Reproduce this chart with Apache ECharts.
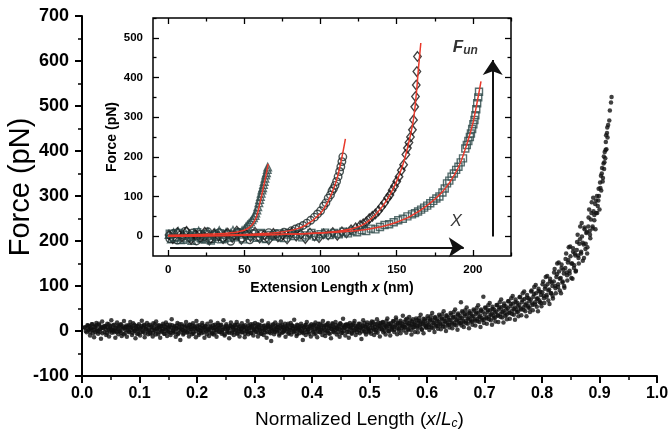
<!DOCTYPE html>
<html><head><meta charset="utf-8">
<script src="https://cdn.jsdelivr.net/npm/echarts@6/dist/echarts.min.js"></script>
<style>html,body{margin:0;padding:0;background:#fff}#c{width:669px;height:434px}</style>
</head><body><div id="c"></div>
<script>
// Main panel: normalized length (x/Lc) vs force (pN) in two passes
const mainPoints = [
[0.005,8],[0.008,-3],[0.010,12],[0.012,2],[0.014,-10],[0.016,6],[0.018,15],[0.019,-5],
[0.021,-14],[0.023,9],[0.025,18],[0.026,0],[0.028,-6],[0.030,13],[0.032,4],[0.033,-17],[0.035,21],[0.037,7],[0.039,-2],
[0.041,11],[0.042,-9],[0.044,16],[0.046,3],[0.047,-12],[0.049,8],[0.051,24],[0.052,-4],[0.054,1],[0.056,14],[0.058,-15],[0.059,6],
[0.061,19],[0.063,-7],[0.064,10],[0.066,-1],[0.068,15],[0.069,-11],[0.071,5],[0.073,22],[0.075,-5],[0.076,9],[0.078,-13],[0.079,2],
[0.081,13],[0.082,-3],[0.084,20],[0.086,7],[0.087,-9],[0.089,17],[0.091,0],[0.093,-16],[0.094,11],[0.096,4],[0.098,-6],[0.099,15],
[0.101,-10],[0.103,8],[0.104,23],[0.106,-2],[0.108,12],[0.109,-14],[0.111,5],[0.113,18],[0.115,-7],[0.116,1],[0.118,14],[0.119,-4],
[0.121,9],[0.123,-12],[0.124,17],[0.126,3],[0.128,-8],[0.129,21],[0.131,6],[0.133,-3],[0.134,13],[0.136,-15],[0.138,10],[0.139,0],
[0.141,16],[0.143,-6],[0.144,4],[0.146,19],[0.148,-11],[0.149,8],[0.151,-1],[0.153,14],[0.154,-9],[0.156,26],[0.158,2],[0.159,-4],
[0.161,11],[0.163,-13],[0.164,6],[0.166,18],[0.168,-5],[0.169,9],[0.171,-20],[0.173,15],[0.174,3],[0.176,-8],[0.178,12],[0.179,0],
[0.181,20],[0.183,-2],[0.184,7],[0.186,-12],[0.188,14],[0.189,4],[0.191,-7],[0.193,17],[0.194,-3],[0.196,10],[0.198,-14],[0.199,22],
[0.201,5],[0.203,-9],[0.204,13],[0.206,1],[0.208,-5],[0.209,18],[0.211,8],[0.213,-15],[0.214,11],[0.216,-1],[0.218,16],[0.219,3],
[0.221,-11],[0.223,9],[0.224,21],[0.226,-4],[0.228,6],[0.229,-8],[0.231,14],[0.233,2],[0.234,-13],[0.236,18],[0.238,7],[0.239,-2],
[0.241,12],[0.243,-6],[0.244,3],[0.246,24],[0.248,-10],[0.249,8],[0.251,15],[0.253,-3],[0.254,5],[0.256,-16],[0.258,11],[0.259,19],
[0.261,-1],[0.263,7],[0.264,-9],[0.266,14],[0.268,2],[0.269,20],[0.271,-5],[0.273,10],[0.274,-12],[0.276,4],[0.278,17],[0.279,-3],
[0.281,9],[0.283,-14],[0.284,13],[0.286,0],[0.288,22],[0.289,-7],[0.291,6],[0.293,15],[0.294,-4],[0.296,11],[0.298,-10],[0.299,3],
[0.301,18],[0.303,-2],[0.304,8],[0.306,-12],[0.308,14],[0.309,4],[0.311,-6],[0.313,23],[0.314,1],[0.316,-9],[0.318,12],[0.319,6],
[0.321,-15],[0.323,10],[0.324,17],[0.326,-3],[0.328,5],[0.329,-22],[0.331,13],[0.333,2],[0.334,-7],[0.336,19],[0.338,8],[0.339,-1],
[0.341,14],[0.343,-10],[0.344,6],[0.346,21],[0.348,-4],[0.349,9],[0.351,0],[0.353,16],[0.354,-13],[0.356,7],[0.358,12],[0.359,-6],
[0.361,3],[0.363,18],[0.364,-8],[0.366,11],[0.368,-1],[0.369,25],[0.371,5],[0.373,-11],[0.374,14],[0.376,2],[0.378,-5],[0.379,9],
[0.381,16],[0.383,-3],[0.384,-20],[0.386,7],[0.388,13],[0.389,-9],[0.391,20],[0.393,4],[0.394,-2],[0.396,10],[0.398,-12],[0.399,15],
[0.401,1],[0.403,12],[0.404,-7],[0.406,19],[0.408,5],[0.409,-14],[0.411,9],[0.413,-2],[0.414,16],[0.416,3],[0.418,-9],[0.419,22],
[0.421,7],[0.423,-11],[0.424,13],[0.426,0],[0.428,18],[0.429,-5],[0.431,10],[0.433,-16],[0.434,4],[0.436,15],[0.438,-3],[0.439,8],
[0.441,20],[0.443,-8],[0.444,5],[0.446,12],[0.448,-13],[0.449,17],[0.451,2],[0.453,-4],[0.454,27],[0.456,9],[0.458,-10],[0.459,14],
[0.461,-2],[0.463,11],[0.464,-15],[0.466,18],[0.468,6],[0.469,-6],[0.471,14],[0.473,1],[0.474,22],[0.476,-9],[0.478,9],[0.479,3],
[0.481,16],[0.483,-5],[0.484,8],[0.486,-18],[0.488,12],[0.489,24],[0.491,0],[0.493,10],[0.494,-8],[0.496,19],[0.498,4],[0.499,-3],
[0.501,13],[0.503,-6],[0.504,21],[0.506,6],[0.508,-9],[0.509,15],[0.511,2],[0.513,26],[0.514,-4],[0.516,11],[0.518,-12],[0.519,18],
[0.521,5],[0.523,20],[0.524,-3],[0.526,14],[0.528,-8],[0.529,9],[0.531,28],[0.533,0],[0.534,16],[0.536,-10],[0.538,12],[0.539,3],
[0.541,22],[0.543,-2],[0.544,10],[0.546,30],[0.548,-7],[0.549,16],[0.551,5],[0.553,19],[0.554,-5],[0.556,12],[0.558,34],[0.559,1],
[0.561,9],[0.563,25],[0.564,-4],[0.566,18],[0.568,3],[0.569,31],[0.571,12],[0.573,-8],[0.574,21],[0.576,7],[0.578,15],[0.579,-2],
[0.581,28],[0.583,10],[0.584,-3],[0.586,22],[0.588,14],[0.589,36],[0.591,4],[0.593,19],[0.594,-5],[0.596,26],[0.598,12],[0.599,8],
[0.601,33],[0.603,14],[0.604,2],[0.606,25],[0.608,8],[0.609,40],[0.611,18],[0.613,-2],[0.614,29],[0.616,11],[0.618,22],[0.619,5],
[0.621,36],[0.623,16],[0.624,4],[0.626,28],[0.628,10],[0.629,44],[0.631,21],[0.633,0],[0.634,33],[0.636,14],[0.638,25],[0.639,8],
[0.641,40],[0.643,19],[0.644,6],[0.646,31],[0.648,14],[0.649,48],[0.651,24],[0.653,3],[0.654,36],[0.656,17],[0.658,29],[0.659,64],[0.660,12],
[0.661,44],[0.663,22],[0.664,9],[0.666,37],[0.668,18],[0.669,52],[0.671,27],[0.673,6],[0.674,40],[0.676,21],[0.678,33],[0.679,14],
[0.681,48],[0.683,26],[0.684,12],[0.686,41],[0.688,22],[0.689,57],[0.691,31],[0.693,9],[0.694,45],[0.696,25],[0.698,76],[0.699,18],
[0.701,52],[0.703,30],[0.704,16],[0.706,46],[0.708,26],[0.709,62],[0.711,36],[0.713,14],[0.714,49],[0.716,29],[0.718,41],[0.719,21],
[0.721,58],[0.723,35],[0.724,20],[0.726,52],[0.728,31],[0.729,70],[0.731,42],[0.733,19],[0.734,56],[0.736,34],[0.738,48],[0.739,26],
[0.741,66],[0.743,41],[0.744,27],[0.746,60],[0.748,38],[0.749,78],[0.751,49],[0.753,25],[0.754,64],[0.756,42],[0.758,55],[0.759,33],
[0.761,75],[0.763,50],[0.764,35],[0.766,69],[0.768,47],[0.769,88],[0.771,58],[0.773,33],[0.774,74],[0.776,52],[0.778,66],[0.779,42],
[0.781,88],[0.783,61],[0.784,46],[0.786,82],[0.788,59],[0.789,102],[0.791,71],[0.793,44],[0.794,89],[0.796,64],[0.798,80],[0.799,55],
[0.801,104],[0.803,78],[0.804,62],[0.806,99],[0.808,76],[0.809,122],[0.811,90],[0.813,60],[0.814,110],[0.816,84],[0.818,100],[0.819,72],
[0.821,130],[0.823,100],[0.824,84],[0.826,126],[0.828,98],[0.829,152],[0.831,116],[0.833,84],[0.834,140],[0.836,110],[0.838,128],[0.839,96],
[0.841,160],[0.843,130],[0.844,112],[0.846,158],[0.848,128],[0.849,188],[0.851,150],[0.853,116],[0.854,176],[0.856,146],[0.858,168],[0.859,134],
[0.861,198],[0.863,168],[0.864,150],[0.866,204],[0.868,172],[0.869,240],[0.871,196],[0.873,162],[0.874,226],[0.876,194],[0.878,220],[0.879,186],
[0.881,252],[0.883,222],[0.884,206],[0.886,262],[0.888,232],[0.889,296],[0.891,258],[0.893,226],[0.894,290],[0.896,262],[0.898,290],[0.899,300],[0.900,270],
[0.901,330],[0.903,312],[0.904,350],[0.906,340],[0.907,372],[0.908,360],[0.909,398],[0.910,384],[0.911,420],[0.912,404],[0.913,440],[0.914,430],[0.915,458],[0.917,468],[0.918,490],[0.920,508],[0.921,520]
];
const mainPointsB = [
[0.0045,8],[0.0065,0],[0.0095,13],[0.011,4],[0.0125,11],[0.014,-3],[0.0155,6],[0.017,15],[0.0185,2],
[0.0205,2],[0.022,10],[0.0235,-3],[0.025,13],[0.0265,4],[0.028,0],[0.0295,16],[0.031,-2],[0.0325,6],[0.034,9],[0.0355,-5],[0.037,7],[0.0385,11],
[0.0405,9],[0.042,3],[0.0435,-5],[0.045,8],[0.0465,15],[0.048,-1],[0.0495,11],[0.051,2],[0.0525,4],[0.054,13],[0.0555,-3],[0.057,6],[0.0585,0],
[0.0605,-2],[0.062,12],[0.0635,5],[0.065,1],[0.0665,14],[0.068,-4],[0.0695,8],[0.071,10],[0.0725,-7],[0.074,7],[0.0755,3],[0.077,12],[0.0785,9],
[0.0805,7],[0.082,-1],[0.0835,12],[0.085,3],[0.0865,10],[0.088,-4],[0.0895,5],[0.091,14],[0.0925,1],[0.094,8],[0.0955,-6],[0.097,11],[0.0985,2],
[0.1005,6],[0.102,-3],[0.1035,11],[0.105,1],[0.1065,8],[0.108,14],[0.1095,-5],[0.111,4],[0.1125,9],[0.114,-1],[0.1155,13],[0.117,3],[0.1185,-6],
[0.1205,10],[0.122,2],[0.1235,-4],[0.125,7],[0.1265,15],[0.128,0],[0.1295,5],[0.131,12],[0.1325,-7],[0.134,8],[0.1355,3],[0.137,11],[0.1385,-2],
[0.1405,4],[0.142,12],[0.1435,-6],[0.145,9],[0.1465,1],[0.148,14],[0.1495,-2],[0.151,6],[0.1525,10],[0.154,-4],[0.1555,7],[0.157,13],[0.1585,0],
[0.1605,8],[0.162,-3],[0.1635,5],[0.165,12],[0.1665,-7],[0.168,3],[0.1695,15],[0.171,6],[0.1725,-1],[0.174,10],[0.1755,2],[0.177,-5],[0.1785,9],
[0.1805,1],[0.182,11],[0.1835,-4],[0.185,7],[0.1865,14],[0.188,-2],[0.1895,9],[0.191,4],[0.1925,12],[0.194,-6],[0.1955,5],[0.197,8],[0.1985,0],
[0.2005,12],[0.202,3],[0.2035,-5],[0.205,9],[0.2065,0],[0.208,6],[0.2095,13],[0.211,-3],[0.2125,7],[0.214,2],[0.2155,10],[0.217,-7],[0.2185,5],
[0.2205,3],[0.222,-2],[0.2235,11],[0.225,6],[0.2265,-6],[0.228,13],[0.2295,1],[0.231,8],[0.2325,-4],[0.234,10],[0.2355,4],[0.237,14],[0.2385,-1],
[0.2405,7],[0.242,14],[0.2435,-3],[0.245,2],[0.2465,9],[0.248,-7],[0.2495,5],[0.251,11],[0.2525,0],[0.254,8],[0.2555,-4],[0.257,6],[0.2585,12],
[0.2605,-5],[0.262,9],[0.2635,3],[0.265,12],[0.2665,-1],[0.268,7],[0.2695,-6],[0.271,14],[0.2725,4],[0.274,0],[0.2755,10],[0.277,-3],[0.2785,6],
[0.2805,11],[0.282,2],[0.2835,-6],[0.285,8],[0.2865,5],[0.288,-2],[0.2895,13],[0.291,0],[0.2925,9],[0.294,-5],[0.2955,7],[0.297,15],[0.2985,3],
[0.3005,-1],[0.302,10],[0.3035,5],[0.305,15],[0.3065,-4],[0.308,8],[0.3095,1],[0.311,12],[0.3125,-6],[0.314,6],[0.3155,11],[0.317,2],[0.3185,-3],
[0.3205,7],[0.322,-3],[0.3235,13],[0.325,4],[0.3265,10],[0.328,-5],[0.3295,8],[0.331,0],[0.3325,15],[0.334,5],[0.3355,-2],[0.337,11],[0.3385,3],
[0.3405,9],[0.342,1],[0.3435,-6],[0.345,12],[0.3465,5],[0.348,14],[0.3495,-3],[0.351,7],[0.3525,2],[0.354,10],[0.3555,-1],[0.357,4],[0.3585,16],
[0.3605,-4],[0.362,8],[0.3635,3],[0.365,13],[0.3665,6],[0.368,-2],[0.3695,10],[0.371,0],[0.3725,7],[0.374,-7],[0.3755,12],[0.377,5],[0.3785,1],
[0.3805,6],[0.382,11],[0.3835,0],[0.385,-5],[0.3865,9],[0.388,3],[0.3895,14],[0.391,-2],[0.3925,8],[0.394,4],[0.3955,-6],[0.397,12],[0.3985,7],
[0.4005,9],[0.402,-2],[0.4035,14],[0.405,4],[0.4065,-5],[0.408,11],[0.4095,1],[0.411,16],[0.4125,6],[0.414,-3],[0.4155,8],[0.417,13],[0.4185,0],
[0.4205,12],[0.422,3],[0.4235,-4],[0.425,9],[0.4265,15],[0.428,1],[0.4295,7],[0.431,-6],[0.4325,11],[0.434,5],[0.4355,17],[0.437,-1],[0.4385,8],
[0.4405,2],[0.442,13],[0.4435,6],[0.445,-3],[0.4465,10],[0.448,4],[0.4495,16],[0.451,-5],[0.4525,8],[0.454,12],[0.4555,0],[0.457,7],[0.4585,14],
[0.4605,5],[0.462,15],[0.4635,-2],[0.465,10],[0.4665,3],[0.468,13],[0.4695,-4],[0.471,8],[0.4725,17],[0.474,1],[0.4755,11],[0.477,6],[0.4785,-3],
[0.4805,12],[0.482,2],[0.4835,16],[0.485,7],[0.4865,-1],[0.488,10],[0.4895,4],[0.491,18],[0.4925,-3],[0.494,9],[0.4955,14],[0.497,5],[0.4985,0],
[0.5005,6],[0.502,17],[0.5035,1],[0.505,12],[0.5065,20],[0.508,3],[0.5095,9],[0.511,-2],[0.5125,15],[0.514,7],[0.5155,19],[0.517,4],[0.5185,11],
[0.5205,14],[0.522,3],[0.5235,19],[0.525,8],[0.5265,0],[0.528,12],[0.5295,22],[0.531,6],[0.5325,15],[0.534,-1],[0.5355,10],[0.537,17],[0.5385,5],
[0.5405,9],[0.542,21],[0.5435,3],[0.545,14],[0.5465,25],[0.548,7],[0.5495,18],[0.551,1],[0.5525,12],[0.554,23],[0.5555,6],[0.557,16],[0.5585,10],
[0.5605,20],[0.562,8],[0.5635,14],[0.565,27],[0.5665,4],[0.568,17],[0.5695,11],[0.571,23],[0.5725,2],[0.574,15],[0.5755,26],[0.577,9],[0.5785,19],
[0.5805,13],[0.582,24],[0.5835,6],[0.585,18],[0.5865,29],[0.588,10],[0.5895,21],[0.591,3],[0.5925,16],[0.594,27],[0.5955,12],[0.597,22],[0.5985,8],
[0.6005,17],[0.602,28],[0.6035,9],[0.605,22],[0.6065,33],[0.608,13],[0.6095,25],[0.611,6],[0.6125,19],[0.614,31],[0.6155,14],[0.617,26],[0.6185,11],
[0.6205,20],[0.622,32],[0.6235,12],[0.625,25],[0.6265,37],[0.628,16],[0.6295,28],[0.631,9],[0.6325,22],[0.634,35],[0.6355,17],[0.637,30],[0.6385,14],
[0.6405,24],[0.642,36],[0.6435,15],[0.645,29],[0.6465,42],[0.648,19],[0.6495,32],[0.651,12],[0.6525,26],[0.654,39],[0.6555,21],[0.657,34],[0.6585,17],
[0.6605,28],[0.662,41],[0.6635,19],[0.665,33],[0.6665,46],[0.668,23],[0.6695,37],[0.671,16],[0.6725,30],[0.674,44],[0.6755,25],[0.677,38],[0.6785,21],
[0.6805,32],[0.682,45],[0.6835,23],[0.685,37],[0.6865,51],[0.688,27],[0.6895,41],[0.691,20],[0.6925,34],[0.694,48],[0.6955,29],[0.697,43],[0.6985,25],
[0.7005,37],[0.702,51],[0.7035,28],[0.705,42],[0.7065,57],[0.708,32],[0.7095,46],[0.711,24],[0.7125,39],[0.714,54],[0.7155,34],[0.717,48],[0.7185,30],
[0.7205,43],[0.722,57],[0.7235,34],[0.725,48],[0.7265,64],[0.728,38],[0.7295,53],[0.731,30],[0.7325,45],[0.734,61],[0.7355,40],[0.737,55],[0.7385,36],
[0.7405,50],[0.742,66],[0.7435,40],[0.745,55],[0.7465,73],[0.748,45],[0.7495,61],[0.751,36],[0.7525,52],[0.754,70],[0.7555,47],[0.757,63],[0.7585,43],
[0.7605,58],[0.762,76],[0.7635,48],[0.765,64],[0.7665,84],[0.768,53],[0.7695,71],[0.771,44],[0.7725,61],[0.774,80],[0.7755,56],[0.777,73],[0.7785,51],
[0.7805,70],[0.782,90],[0.7835,58],[0.785,76],[0.7865,98],[0.788,64],[0.7895,84],[0.791,54],[0.7925,73],[0.794,94],[0.7955,68],[0.797,87],[0.7985,62],
[0.8005,86],[0.802,110],[0.8035,73],[0.805,94],[0.8065,120],[0.808,80],[0.8095,104],[0.811,68],[0.8125,92],[0.814,116],[0.8155,84],[0.817,108],[0.8185,78],
[0.8205,110],[0.822,138],[0.8235,95],[0.825,120],[0.8265,150],[0.828,104],[0.8295,132],[0.831,90],[0.8325,118],[0.834,148],[0.8355,108],[0.837,136],[0.8385,100],
[0.8405,140],[0.842,172],[0.8435,124],[0.845,152],[0.8465,186],[0.848,134],[0.8495,166],[0.851,118],[0.8525,150],[0.854,184],[0.8555,140],[0.857,172],[0.8585,132],
[0.8605,180],[0.862,214],[0.8635,162],[0.865,194],[0.8665,232],[0.868,176],[0.8695,210],[0.871,156],[0.8725,192],[0.874,230],[0.8755,182],[0.877,218],[0.8785,172],
[0.8805,232],[0.882,270],[0.8835,214],[0.885,248],[0.8865,286],[0.888,228],[0.8895,266],[0.891,246],[0.8925,282],[0.894,262],[0.8955,300],[0.897,278],[0.8985,316],
[0.9015,318],[0.9025,345],[0.9045,362],[0.9055,332],[0.9075,388],[0.9085,375],[0.9105,402],[0.9115,435],[0.9135,452]
];

// Inset: extension length x (nm) vs force (pN)
const insetTriangles = [[0.5,4],[2,-7],[3.5,9],[5,-2],[6.5,12],[8,-9],[9.5,3],[11,10],[12.5,-5],[14,6],[15.5,-11],[17,8],[18.5,1],[20,13],[21.5,-4],[23,5],[24.5,-8],[26,11],[27.5,2],[29,-6],[30.5,9],[32,-1],[33.5,14],[35,-7],[36.5,4],[38,10],[39.5,-3],[41,7],[42.5,15],[44,1],[45.5,9],[47,5],[48.5,14],[50,18],[51,23],[52,28],[53,32],[54,36],[55,41],[56,46],[57,52],[57.5,58],[58.2,66],[58.8,74],[59.5,84],[60,92],[60.5,100],[61,108],[61.5,116],[62,122],[62.5,130],[63,138],[63.5,146],[64,154],[64.5,160],[65,168],[65.3,174]];
const insetCircles = [[1,-6],[3.5,7],[6,-10],[8.5,4],[11,12],[13.5,-3],[16,8],[18.5,-12],[21,5],[23.5,-1],[26,11],[28.5,-7],[31,3],[33.5,9],[36,-4],[38.5,6],[41,-13],[43.5,2],[46,10],[48.5,-5],[51,4],[53.5,-9],[56,7],[58.5,-2],[61,5],[63.5,-6],[66,9],[68.5,1],[71,6],[73.5,-3],[76,10],[78.5,8],[81,14],[83.5,18],[86,22],[88.5,27],[91,33],[93.5,40],[96,48],[98,56],[100,64],[102,76],[103.5,84],[105,96],[106.5,104],[107.5,114],[108.5,120],[109.5,128],[110.5,138],[111.5,150],[112.5,163],[113.3,175],[114,188],[114.6,200]];
const insetDiamonds = [[0.5,3],[3,-6],[6,9],[9,-2],[12,12],[15,-8],[18,4],[21,-4],[24,10],[27,-10],[30,6],[33,1],[36,-6],[39,8],[42,-3],[45,13],[48,-8],[51,5],[54,-1],[57,10],[60,-5],[63,3],[66,-9],[69,7],[72,-2],[75,4],[78,-7],[81,9],[84,0],[87,5],[90,-6],[93,8],[96,1],[99,-4],[102,6],[105,3],[108,9],[111,2],[114,11],[117,8],[120,16],[123,21],[126,27],[128,31],[130,36],[132,44],[134,50],[136,56],[138,64],[140,74],[142,84],[144,96],[145.5,104],[147,116],[148.5,126],[150,138],[151.5,150],[153,166],[154.5,180],[156,206],[157,222],[158,236],[159,250],[160.3,268],[161,293],[161.8,326],[162.3,352],[162.8,381],[163.2,415],[163.6,453]];
const insetSquares = [[1,6],[4,-4],[7,8],[10,-9],[13,3],[16,-2],[19,10],[22,-7],[25,5],[28,-11],[31,2],[34,7],[37,-6],[40,4],[43,-3],[46,9],[49,-8],[52,1],[55,6],[58,-4],[61,8],[64,-7],[67,3],[70,-1],[73,7],[76,-5],[79,4],[82,0],[85,6],[88,-3],[91,2],[94,8],[97,-1],[100,5],[103,9],[106,3],[109,8],[112,5],[115,11],[118,7],[121,13],[124,10],[127,15],[130,13],[133,19],[136,17],[139,23],[142,28],[145,30],[148,35],[151,40],[154,44],[157,50],[160,55],[162,58],[164,62],[166,67],[168,72],[170,77],[172,83],[174,89],[176,95],[178,100],[180,110],[181.5,120],[183,133],[184.5,140],[186,150],[187.5,158],[189,167],[190.5,175],[192,186],[193.5,196],[195,221],[196,230],[197,240],[198,250],[198.7,259],[199.5,270],[200.3,282],[201,293],[201.6,305],[202.2,320],[202.8,335],[203.5,350],[204,364]];
const fitTriangles = [[0,2],[20,4],[40,8],[50,15],[55,28],[58,50],[60,80],[62,115],[64,150],[65.6,182]];
const fitCircles = [[0,0],[30,2],[60,6],[80,14],[90,27],[100,58],[105,88],[110,135],[113,180],[116.3,245]];
const fitDiamonds = [[0,0],[50,3],[100,8],[120,18],[130,34],[140,72],[148,122],[154,180],[158,238],[161,295],[163,365],[164.3,425],[165.8,487]];
const fitSquares = [[0,0],[60,3],[100,8],[130,17],[150,35],[165,64],[180,112],[190,170],[196,232],[200,285],[203,342],[205.3,390]];
const arrowX = [[1.2,-28],[194,-28]];
const arrowF = [[213,-1],[213,444]];
const labelX = [189,38];
const labelF = [195,477];

const insetXMajor = [0,50,100,150,200];
const insetXMinor = [25,75,125,175,225];
const insetYMajor = [0,100,200,300,400,500];
const insetYMinor = [50,150,250,350,450,550];

const FONT = '"Liberation Sans", Arial, Helvetica, sans-serif';
const chart = echarts.init(document.getElementById('c'), null, {renderer:'canvas'});

function insetAxis(pos, major, minor, isMinor, showLabel, extra) {
  return Object.assign({
    type:'value', gridIndex:1, position:pos, nameMoveOverlap:false,
    axisLine:{show:false, onZero:false},
    splitLine:{show:false},
    axisTick:{show:true, inside:true, length:isMinor?3.5:6, customValues:isMinor?minor:major, lineStyle:{color:'#000', width:1.3}},
    axisLabel:{show:showLabel, customValues:major, color:'#000', fontFamily:FONT, fontWeight:'bold', fontSize:11.5, margin:(pos==='left'||pos==='right')?10:8},
  }, extra);
}

const xAxes = [
  {
    type:'value', gridIndex:0, min:0, max:1, interval:0.1, nameMoveOverlap:false,
    axisLine:{onZero:false, lineStyle:{color:'#000', width:2}},
    axisTick:{length:7, lineStyle:{color:'#000', width:2}},
    minorTick:{show:true, splitNumber:2, length:4, lineStyle:{color:'#000', width:1.5}},
    splitLine:{show:false},
    axisLabel:{formatter:v=>v.toFixed(1), color:'#000', fontFamily:FONT, fontWeight:'bold', fontSize:16, margin:10},
    name:'{n|Normalized Length (}{i|x}{n|/}{i|L}{s|c}{n|)}', nameLocation:'middle', nameGap:34,
    nameTextStyle:{padding:[0,20,0,0], rich:{
      n:{fontFamily:FONT, fontSize:19, color:'#000'},
      i:{fontFamily:FONT, fontSize:19, fontStyle:'italic', color:'#000'},
      s:{fontFamily:FONT, fontSize:12, fontStyle:'italic', color:'#000', verticalAlign:'bottom', padding:[8,0,0,0]}
    }}
  },
  insetAxis('bottom', insetXMajor, insetXMinor, false, true, {min:-10, max:225,
    name:'{a|Extension Length }{b|x}{a| (nm)}', nameLocation:'middle', nameGap:25,
    nameTextStyle:{rich:{a:{fontFamily:FONT, fontWeight:'bold', fontSize:14, color:'#000'}, b:{fontFamily:FONT, fontWeight:'bold', fontStyle:'italic', fontSize:14, color:'#000'}}}}),
  insetAxis('bottom', insetXMajor, insetXMinor, true, false, {min:-10, max:225}),
  insetAxis('top', insetXMajor, insetXMinor, false, false, {min:-10, max:225}),
  insetAxis('top', insetXMajor, insetXMinor, true, false, {min:-10, max:225})
];
const yAxes = [
  {
    type:'value', gridIndex:0, min:-100, max:700, interval:100, nameMoveOverlap:false,
    axisLine:{onZero:false, lineStyle:{color:'#000', width:2}},
    axisTick:{length:7, lineStyle:{color:'#000', width:2}},
    minorTick:{show:true, splitNumber:2, length:4, lineStyle:{color:'#000', width:1.5}},
    splitLine:{show:false},
    axisLabel:{color:'#000', fontFamily:FONT, fontWeight:'bold', fontSize:18, margin:13},
    name:'Force (pN)', nameLocation:'middle', nameGap:47,
    nameTextStyle:{fontFamily:FONT, fontSize:29, color:'#000', padding:[0,0,0,18]}
  },
  insetAxis('left', insetYMajor, insetYMinor, false, true, {min:-50, max:550,
    name:'Force (pN)', nameLocation:'middle', nameGap:34,
    nameTextStyle:{fontFamily:FONT, fontWeight:'bold', fontSize:14, color:'#000'}}),
  insetAxis('left', insetYMajor, insetYMinor, true, false, {min:-50, max:550}),
  insetAxis('right', insetYMajor, insetYMinor, false, false, {min:-50, max:550}),
  insetAxis('right', insetYMajor, insetYMinor, true, false, {min:-50, max:550})
];

function markers(data, symbol, color, size) {
  return {type:'scatter', xAxisIndex:1, yAxisIndex:1, data, symbol, symbolSize:size, z:3,
    itemStyle:{color:'rgba(255,255,255,0)', borderColor:color, borderWidth:1.4}, silent:true};
}
function fit(data) {
  return {type:'line', xAxisIndex:1, yAxisIndex:1, data, smooth:0.4, showSymbol:false, z:4,
    lineStyle:{color:'#e8392b', width:1.5}, silent:true};
}
function mainSeries(data) {
  return {type:'scatter', xAxisIndex:0, yAxisIndex:0, data, symbolSize:4.5, itemStyle:{color:'#121212'}, silent:true};
}

chart.setOption({
  animation:false,
  backgroundColor:'#fff',
  grid:[
    {left:82, top:16, width:575, height:360, show:false, outerBoundsMode:'none', containLabel:false},
    {left:153, top:18, width:358, height:238, show:true, outerBoundsMode:'none', containLabel:false, backgroundColor:'#fff', borderColor:'#000', borderWidth:1.5}
  ],
  xAxis:xAxes,
  yAxis:yAxes,
  series:[
    mainSeries(mainPoints),
    mainSeries(mainPointsB),
    markers(insetTriangles, 'triangle', '#2f4a4a', 7.5),
    markers(insetCircles, 'circle', '#1d2a2a', 7.5),
    markers(insetDiamonds, 'diamond', '#111', [7.5,9.5]),
    markers(insetSquares, 'rect', '#2c4848', 7),
    fit(fitTriangles), fit(fitCircles), fit(fitDiamonds), fit(fitSquares),
    {type:'line', xAxisIndex:1, yAxisIndex:1, data:[], silent:true,
      markLine:{silent:true, symbol:['none','arrow'], symbolSize:15, label:{show:false},
        lineStyle:{color:'#111', width:2, type:'solid'},
        data:[
          [{coord:arrowX[0]},{coord:arrowX[1]}],
          [{coord:arrowF[0]},{coord:arrowF[1]}]
        ]}},
    {type:'scatter', xAxisIndex:1, yAxisIndex:1, symbolSize:0, silent:true, z:5,
      data:[{value:labelX, label:{show:true, position:'inside', formatter:'{x|X}'}},
            {value:labelF, label:{show:true, position:'inside', formatter:'{f|F}{u|un}'}}],
      label:{rich:{
        x:{fontFamily:FONT, fontStyle:'italic', fontSize:17, color:'#000'},
        f:{fontFamily:FONT, fontStyle:'italic', fontWeight:'bold', fontSize:17, color:'#000'},
        u:{fontFamily:FONT, fontStyle:'italic', fontWeight:'bold', fontSize:12, color:'#000', verticalAlign:'bottom', padding:[8,0,0,0]}
      }}}
  ]
});
</script></body></html>
